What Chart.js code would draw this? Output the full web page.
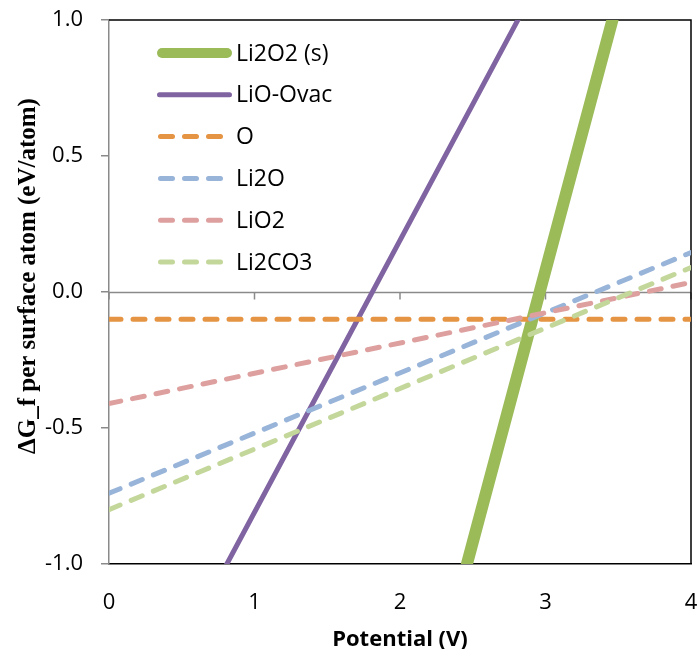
<!DOCTYPE html>
<html>
<head>
<meta charset="utf-8">
<script src="https://cdn.jsdelivr.net/npm/chart.js@4.4.1/dist/chart.umd.min.js"></script>
<style>
  body { margin: 0; background: #fff; }
  #wrap { width: 699px; height: 649px; }
</style>
</head>
<body>
<div id="wrap"><canvas id="graph"></canvas></div>
<script>
// series names (legend order)
const seriesNames = ['Li2O2 (s)', 'LiO-Ovac', 'O', 'Li2O', 'LiO2', 'Li2CO3']

// end points of each line (x = potential, y = dG_f)
const li2o2X = [2.46, 3.46]
const li2o2Y = [-1.0, 1.0]
const lioOvacX = [0.81, 2.81]
const lioOvacY = [-1.0, 1.0]
const oX = [0, 4]
const oY = [-0.10, -0.10]
const li2oX = [0, 4]
const li2oY = [-0.74, 0.145]
const lio2X = [0, 4]
const lio2Y = [-0.41, 0.035]
const li2co3X = [0, 4]
const li2co3Y = [-0.80, 0.09]

// axis ticks
const xTicks = [0, 1, 2, 3, 4]
const yTicks = [-1.0, -0.5, 0.0, 0.5, 1.0]

const yTitle = 'ΔG_f per surface atom (eV/atom)'

const colors = ['#9BBB59', '#8064A2', '#E59443', '#98B4D9', '#DDA09F', '#C4D79B']
const widths = [12, 5, 5, 5, 5, 5]
const dashes = [[], [], [12, 12], [12, 12], [12, 12], [12, 12]]

const xs = [li2o2X, lioOvacX, oX, li2oX, lio2X, li2co3X]
const ys = [li2o2Y, lioOvacY, oY, li2oY, lio2Y, li2co3Y]

const pts = (a, b) => a.map((x, i) => ({x: x, y: b[i]}))

const datasets = seriesNames.map((name, i) => ({
    label: name,
    data: pts(xs[i], ys[i]),
    showLine: true,
    borderColor: colors[i],
    backgroundColor: colors[i],
    borderWidth: widths[i],
    borderDash: dashes[i],
    borderCapStyle: dashes[i].length ? 'round' : 'square',
    pointRadius: 0,
    pointHoverRadius: 0,
    clip: 0,
    order: seriesNames.length - i  // first series ends up at the bottom, like Excel
}))

// gray line at y = 0 with tick marks, black frame top/right, y title
const frame = {
    id: 'frame',
    beforeDatasetsDraw(chart) {
        const {ctx, chartArea: a, scales: {x, y}} = chart
        const y0 = Math.round(y.getPixelForValue(0)) + 0.5
        ctx.save()
        ctx.strokeStyle = '#8a8a8a'
        ctx.lineWidth = 1.5
        ctx.beginPath()
        ctx.moveTo(a.left, y0)
        ctx.lineTo(a.right, y0)
        xTicks.forEach(t => {
            const px = x.getPixelForValue(t)
            ctx.moveTo(px, y0)
            ctx.lineTo(px, y0 + 7)
        })
        ctx.stroke()
        ctx.strokeStyle = '#000'
        ctx.lineWidth = 1.5
        ctx.beginPath()
        ctx.moveTo(a.left, a.top)
        ctx.lineTo(a.right, a.top)
        ctx.lineTo(a.right, a.bottom)
        ctx.stroke()
        ctx.restore()
    },
    afterDraw(chart) {
        // Excel centres this title on the whole chart, not the plot area
        const ctx = chart.ctx
        ctx.save()
        ctx.translate(29, 276)
        ctx.rotate(-Math.PI / 2)
        ctx.font = 'bold 25px "Liberation Serif"'
        ctx.fillStyle = '#000'
        ctx.textAlign = 'center'
        ctx.textBaseline = 'middle'
        ctx.fillText(yTitle, 0, 0)
        ctx.restore()
    }
}

// legend inside the plot, top left
const innerLegend = {
    id: 'innerLegend',
    afterDatasetsDraw(chart) {
        const {ctx, chartArea: a} = chart
        ctx.save()
        ctx.font = '23px "Open Sans"'
        ctx.textBaseline = 'middle'
        ctx.fillStyle = '#000'
        chart.data.datasets.forEach((ds, i) => {
            const yy = a.top + 33 + i * 41.8
            const x0 = a.left + 48
            ctx.strokeStyle = ds.borderColor
            ctx.lineCap = 'round'
            if (ds.borderDash.length) {
                ctx.lineWidth = 5
                ctx.setLineDash(ds.borderDash)
                ctx.beginPath()
                ctx.moveTo(x0 + 3.5, yy)
                ctx.lineTo(x0 + 63.5, yy)
                ctx.stroke()
            } else {
                const w = i === 0 ? 10 : 5
                ctx.lineWidth = w
                ctx.setLineDash([])
                ctx.beginPath()
                ctx.moveTo(x0 + w / 2, yy)
                ctx.lineTo(x0 + 75 - w / 2, yy)
                ctx.stroke()
            }
            ctx.setLineDash([])
            ctx.fillText(ds.label, x0 + 79, yy + 1)
        })
        ctx.restore()
    }
}

const ctx = document.getElementById('graph').getContext('2d')

Chart.defaults.font.family = '"Open Sans"'
Chart.defaults.font.size = 22
Chart.defaults.color = '#000'

const noPad = s => { s.paddingLeft = 0; s.paddingRight = 0; s.paddingTop = 0; s.paddingBottom = 0 }

new Chart(ctx, {
    type: 'scatter',
    data: { datasets: datasets },
    options: {
        responsive: true,
        maintainAspectRatio: false,
        animation: false,
        events: [],
        layout: { padding: { top: 20, right: 8, left: 0, bottom: 0 } },
        plugins: {
            legend: { display: false },
            tooltip: { enabled: false }
        },
        scales: {
            x: {
                type: 'linear',
                min: 0,
                max: 4,
                afterFit: s => { s.height = 85; noPad(s) },
                afterBuildTicks: s => { s.ticks = xTicks.map(v => ({value: v})) },
                ticks: { padding: 26, font: { size: 22 } },
                grid: { display: true, drawOnChartArea: false, drawTicks: false },
                border: { display: true, color: '#000', width: 1.5 },
                title: {
                    display: true,
                    text: 'Potential (V)',
                    font: { size: 22, weight: 'bold' },
                    padding: { top: 0, bottom: -4 }
                }
            },
            y: {
                type: 'linear',
                min: -1,
                max: 1,
                afterFit: s => { s.width = 109; noPad(s) },
                afterBuildTicks: s => { s.ticks = yTicks.map(v => ({value: v})) },
                ticks: {
                    padding: 18,
                    font: { size: 22 },
                    callback: v => v.toFixed(1)
                },
                grid: { display: true, drawOnChartArea: false, drawTicks: true, tickLength: 8, color: '#8a8a8a', lineWidth: 1.5 },
                border: { display: true, color: '#8a8a8a', width: 1.5 },
                title: { display: false }
            }
        }
    },
    plugins: [frame, innerLegend]
})
</script>
</body>
</html>
